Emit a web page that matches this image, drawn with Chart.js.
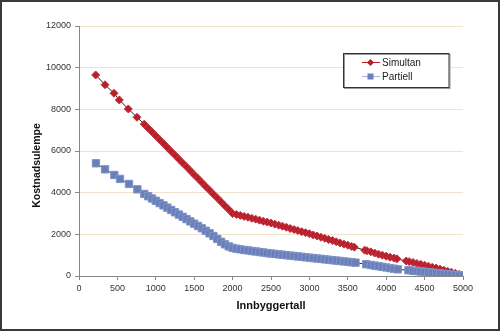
<!DOCTYPE html>
<html>
<head>
<meta charset="utf-8">
<script src="https://cdn.jsdelivr.net/npm/chart.js@4"></script>
<style>
  html, body { margin: 0; padding: 0; background: #fff; }
  canvas { display: block; }
</style>
</head>
<body>
<canvas id="chart" width="500" height="332"></canvas>
<script>
// Simultan (red diamonds)
const simX = [217, 339, 456, 525, 642, 755,
  850, 900, 950, 1000, 1050, 1100, 1150, 1200, 1250, 1300, 1350, 1400, 1450, 1500,
  1550, 1600, 1650, 1700, 1750, 1800, 1850, 1900, 1950, 2000,
  2050, 2100, 2150, 2200, 2250, 2300, 2350, 2400, 2450, 2500, 2550, 2600, 2650, 2700,
  2750, 2800, 2850, 2900, 2950, 3000, 3050, 3100, 3150, 3200, 3250, 3300, 3350, 3400,
  3450, 3500, 3550, 3585,
  3720, 3750, 3800, 3850, 3900, 3950, 4000, 4050, 4100, 4140,
  4260, 4300, 4350, 4400, 4450, 4500, 4550, 4600, 4650, 4700, 4750, 4800, 4850, 4900, 4950];
const simY = [9650, 9180, 8770, 8450, 8020, 7620,
  7290, 7100, 6920, 6730, 6540, 6360, 6170, 5980, 5800, 5610, 5420, 5240, 5050, 4860,
  4680, 4490, 4300, 4120, 3930, 3750, 3560, 3370, 3190, 3000,
  2950, 2910, 2860, 2820, 2770, 2730, 2680, 2630, 2590, 2540, 2490, 2440, 2390, 2340,
  2280, 2230, 2180, 2130, 2080, 2030, 1970, 1920, 1860, 1810, 1750, 1700, 1640, 1590,
  1530, 1480, 1420, 1385,
  1240, 1210, 1160, 1100, 1050, 1000, 950, 900, 860, 825,
  720, 690, 650, 600, 560, 520, 470, 420, 380, 330, 280, 230, 180, 130, 80];

// Partiell (blue squares)
const parX = [221, 339, 460, 534, 651, 760,
  850, 900, 950, 1000, 1050, 1100, 1150, 1200, 1250, 1300, 1350, 1400, 1450, 1500,
  1550, 1600, 1650, 1700, 1750, 1800, 1850, 1900, 1950, 2000,
  2050, 2100, 2150, 2200, 2250, 2300, 2350, 2400, 2450, 2500, 2550, 2600, 2650, 2700,
  2750, 2800, 2850, 2900, 2950, 3000, 3050, 3100, 3150, 3200, 3250, 3300, 3350, 3400,
  3450, 3500, 3550, 3600,
  3740, 3800, 3850, 3900, 3950, 4000, 4050, 4100, 4150,
  4290, 4350, 4400, 4450, 4500, 4550, 4600, 4650, 4700, 4750, 4800, 4850, 4900, 4950, 5000];
const parY = [5410, 5120, 4850, 4660, 4420, 4160,
  3940, 3830, 3720, 3610, 3500, 3390, 3280, 3170, 3060, 2950, 2840, 2730, 2620, 2510,
  2400, 2290, 2170, 2050, 1920, 1780, 1640, 1520, 1420, 1350,
  1310, 1280, 1250, 1230, 1200, 1180, 1150, 1130, 1100, 1080, 1060, 1040, 1020, 1000,
  980, 960, 940, 920, 900, 880, 860, 840, 820, 800, 780, 760, 740, 720,
  700, 680, 660, 640,
  565, 530, 500, 470, 440, 410, 380, 350, 320,
  275, 250, 235, 215, 200, 180, 160, 140, 120, 100, 85, 65, 50, 35, 20];

const xTicks = [0, 500, 1000, 1500, 2000, 2500, 3000, 3500, 4000, 4500, 5000];
const yTicks = [0, 2000, 4000, 6000, 8000, 10000, 12000];

const seriesNames = ['Simultan', 'Partiell'];
const xTitle = 'Innbyggertall';
const yTitle = 'Kostnadsulempe';

const RED = '#b91e2b';
const BLUE = '#6a7fb9';
const tickFont = { family: 'Liberation Sans', size: 9 };

function pts(xs, ys) {
    return xs.map((x, i) => ({ x: x, y: ys[i] }));
}

// draws frame, axis titles and the legend box
const decor = {
    id: 'decor',
    afterDraw(chart) {
        const ctx = chart.ctx;
        ctx.save();

        ctx.fillStyle = '#111';
        ctx.textAlign = 'center';
        ctx.textBaseline = 'middle';
        ctx.font = 'bold 11px "Liberation Sans"';
        ctx.fillText(xTitle, 271, 306);

        ctx.save();
        ctx.translate(37.5, 165.5);
        ctx.rotate(-Math.PI / 2);
        ctx.font = 'bold 10.5px "Liberation Sans"';
        ctx.fillText(yTitle, 0, 0);
        ctx.restore();

        // legend
        ctx.fillStyle = '#fff';
        ctx.fillRect(343.5, 53.5, 105.5, 34);
        ctx.strokeStyle = '#999';
        ctx.lineWidth = 1;
        ctx.strokeRect(344.5, 54.5, 105.5, 34);
        ctx.strokeStyle = '#333';
        ctx.strokeRect(343.5, 53.5, 105.5, 34);

        ctx.lineWidth = 1;
        ctx.strokeStyle = RED;
        ctx.beginPath(); ctx.moveTo(362, 62.5); ctx.lineTo(380, 62.5); ctx.stroke();
        ctx.fillStyle = RED;
        ctx.beginPath();
        ctx.moveTo(370.5, 59); ctx.lineTo(374, 62.5); ctx.lineTo(370.5, 66); ctx.lineTo(367, 62.5);
        ctx.closePath(); ctx.fill();

        ctx.strokeStyle = '#a7b6dc';
        ctx.beginPath(); ctx.moveTo(362, 76.5); ctx.lineTo(380, 76.5); ctx.stroke();
        ctx.fillStyle = BLUE;
        ctx.fillRect(367.5, 73.5, 6, 6);

        ctx.fillStyle = '#222';
        ctx.textAlign = 'left';
        ctx.font = '10px "Liberation Sans"';
        ctx.fillText(seriesNames[0], 382, 63);
        ctx.fillText(seriesNames[1], 382, 77);

        // outer frame
        ctx.strokeStyle = '#3a3a3a';
        ctx.lineWidth = 2;
        ctx.strokeRect(1, 1, 498, 329);
        ctx.restore();
    }
};

new Chart(document.getElementById('chart'), {
    type: 'scatter',
    data: {
        datasets: [{
            label: seriesNames[0],
            data: pts(simX, simY),
            showLine: true,
            borderColor: '#222',
            borderWidth: 1,
            pointStyle: 'rectRot',
            pointRadius: 4,
            pointBackgroundColor: RED,
            pointBorderColor: '#c23440',
            pointBorderWidth: 1,
            order: 2
        }, {
            label: seriesNames[1],
            data: pts(parX, parY),
            showLine: true,
            borderColor: '#222',
            borderWidth: 1,
            pointStyle: 'rect',
            pointRadius: 5.2,
            pointBackgroundColor: BLUE,
            pointBorderColor: '#8094c8',
            pointBorderWidth: 1,
            order: 1
        }]
    },
    options: {
        responsive: false,
        animation: false,
        devicePixelRatio: 1,
        layout: { padding: { top: 26, right: 37, left: 0, bottom: 0 } },
        plugins: { legend: { display: false }, tooltip: { enabled: false } },
        scales: {
            x: {
                type: 'linear',
                min: xTicks[0],
                max: xTicks[xTicks.length - 1],
                afterBuildTicks: s => { s.ticks = xTicks.map(v => ({ value: v })); },
                afterFit: s => { s.height = 56; },
                ticks: { font: tickFont, color: '#333', padding: 3, maxRotation: 0, callback: v => String(v) },
                grid: { drawOnChartArea: false, drawTicks: true, tickLength: 4, tickColor: '#888' },
                border: { color: '#888', width: 1 }
            },
            y: {
                min: yTicks[0],
                max: yTicks[yTicks.length - 1],
                afterBuildTicks: s => { s.ticks = yTicks.map(v => ({ value: v })); },
                afterFit: s => { s.width = 79; },
                ticks: { font: tickFont, color: '#333', padding: 4, callback: v => String(v) },
                grid: { color: '#f1e4cd', tickColor: '#888', tickLength: 4 },
                border: { color: '#888', width: 1 }
            }
        }
    },
    plugins: [decor]
});
</script>
</body>
</html>
